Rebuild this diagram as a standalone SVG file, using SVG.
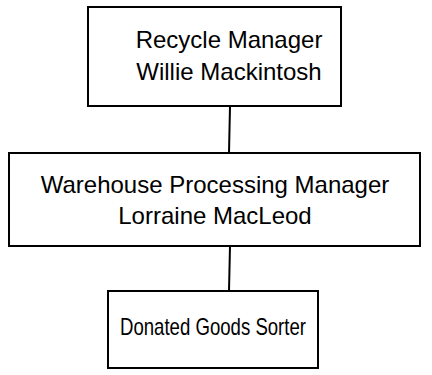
<svg xmlns="http://www.w3.org/2000/svg" width="432" height="375" viewBox="0 0 432 375">
<style>
.box{fill:#fff;stroke:#000;stroke-width:2}
.lbl{font-family:"Liberation Sans",Arial,sans-serif;font-size:24px;fill:#000;text-anchor:middle}
.conn{stroke:#000;stroke-width:2;fill:none}
</style>
<rect width="432" height="375" fill="#fff"/>
<g id="connectors">
<line class="conn" x1="230" y1="106" x2="229" y2="153"/>
<line class="conn" x1="230" y1="246" x2="229" y2="291"/>
</g>
<g id="recycle-manager">
<rect class="box" x="88" y="7" width="253" height="99"/>
<text class="lbl" x="229" y="48">Recycle Manager</text>
<text class="lbl" x="229" y="80">Willie Mackintosh</text>
</g>
<g id="warehouse-manager">
<rect class="box" x="9" y="153" width="411" height="93"/>
<text class="lbl" x="215" y="193">Warehouse Processing Manager</text>
<text class="lbl" x="215" y="224">Lorraine MacLeod</text>
</g>
<g id="sorter">
<rect class="box" x="108" y="291" width="210" height="77"/>
<text class="lbl" x="213" y="335" textLength="186" lengthAdjust="spacingAndGlyphs">Donated Goods Sorter</text>
</g>
</svg>
